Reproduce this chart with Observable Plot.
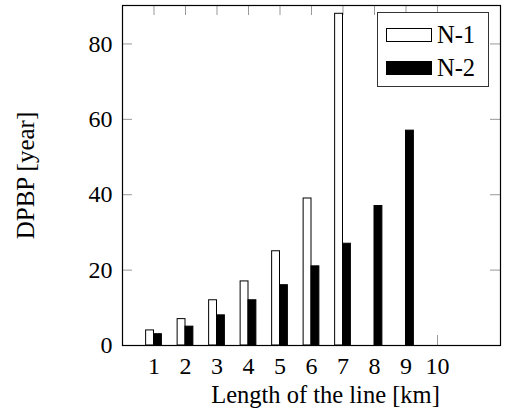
<!DOCTYPE html>
<html>
<head>
<meta charset="utf-8">
<script src="https://cdn.jsdelivr.net/npm/d3@7"></script>
<script src="https://cdn.jsdelivr.net/npm/@observablehq/plot@0.6"></script>
<style>
  html, body { margin: 0; padding: 0; background: #fff; }
  #wrap { position: relative; width: 505px; height: 420px; font-family: "Liberation Serif", "Times New Roman", serif; }
  #legend { position: absolute; left: 377px; top: 12px; width: 112px; height: 75px; border: 1px solid #333; background: #fff; box-sizing: border-box; }
  .sw { position: absolute; left: 8px; width: 46px; height: 14px; box-sizing: border-box; border: 1px solid #000; }
  .lt { position: absolute; left: 59px; font-size: 24.5px; line-height: 24px; color: #000; white-space: nowrap; }
</style>
</head>
<body>
<div id="wrap"></div>
<script>
const categories = [1, 2, 3, 4, 5, 6, 7, 8, 9, 10];
const seriesNames = ["N-1", "N-2"];
const n1Values = [4, 7, 12, 17, 25, 39, 88, null, null, null];
const n2Values = [3, 5, 8, 12, 16, 21, 27, 37, 57, null];
const yTicks = [0, 20, 40, 60, 80];
const xLabel = "Length of the line [km]";
const yLabel = "DPBP [year]";

const W = 505, H = 420, mL = 122, mR = 5, mT = 5, mB = 75;
const frameW = W - mL - mR, frameH = H - mT - mB;
const bw = 0.25;

const rows = [];
categories.forEach((c, i) => {
  if (n1Values[i] != null) rows.push({cat: c, series: seriesNames[0], value: n1Values[i]});
  if (n2Values[i] != null) rows.push({cat: c, series: seriesNames[1], value: n2Values[i]});
});

const chart = Plot.plot({
  width: W, height: H,
  marginLeft: mL, marginRight: mR, marginTop: mT, marginBottom: mB,
  style: {fontFamily: '"Liberation Serif", "Times New Roman", serif', fontSize: "24px", color: "#000", background: "#fff"},
  x: {type: "linear", domain: [0, 12]},
  y: {domain: [0, 90.2]},
  marks: [
    Plot.tickY(yTicks, {y: d => d, stroke: "#999", insetRight: frameW - 10}),
    Plot.tickY(yTicks, {y: d => d, stroke: "#999", insetLeft: frameW - 10}),
    Plot.tickX(categories, {x: d => d, stroke: "#999", insetBottom: frameH - 10}),
    Plot.tickX(categories, {x: d => d, stroke: "#999", insetTop: frameH - 10}),
    Plot.rectY(rows, {
      x1: d => d.series === seriesNames[0] ? d.cat - bw : d.cat,
      x2: d => d.series === seriesNames[0] ? d.cat : d.cat + bw,
      y1: 0, y2: "value",
      fill: d => d.series === seriesNames[0] ? "#fff" : "#000",
      stroke: "#000", strokeWidth: 1
    }),
    Plot.axisY({ticks: yTicks, tickSize: 0, tickPadding: 10, label: null, tickFormat: d => d}),
    Plot.axisX({ticks: categories, tickSize: 0, tickPadding: 11, label: null, tickFormat: d => d}),
    Plot.frame({stroke: "#000", strokeWidth: 1.2}),
    Plot.text([xLabel], {text: d => d, frameAnchor: "bottom", textAnchor: "middle", lineAnchor: "middle", dy: 50, dx: 14, fontSize: 24.5, fill: "#000"}),
    Plot.text([yLabel], {text: d => d, frameAnchor: "left", textAnchor: "middle", lineAnchor: "middle", rotate: -90, dx: -97, fontSize: 25, fill: "#000"})
  ]
});

const wrap = document.getElementById("wrap");
wrap.appendChild(chart);

const legend = document.createElement("div");
legend.id = "legend";
const fills = ["#fff", "#000"];
const swTops = [15, 48];
const txTops = [9.5, 42.5];
seriesNames.forEach((name, i) => {
  const sw = document.createElement("div");
  sw.className = "sw";
  sw.style.top = swTops[i] + "px";
  sw.style.background = fills[i];
  legend.appendChild(sw);
  const t = document.createElement("div");
  t.className = "lt";
  t.style.top = txTops[i] + "px";
  t.textContent = name;
  legend.appendChild(t);
});
wrap.appendChild(legend);
</script>
</body>
</html>
